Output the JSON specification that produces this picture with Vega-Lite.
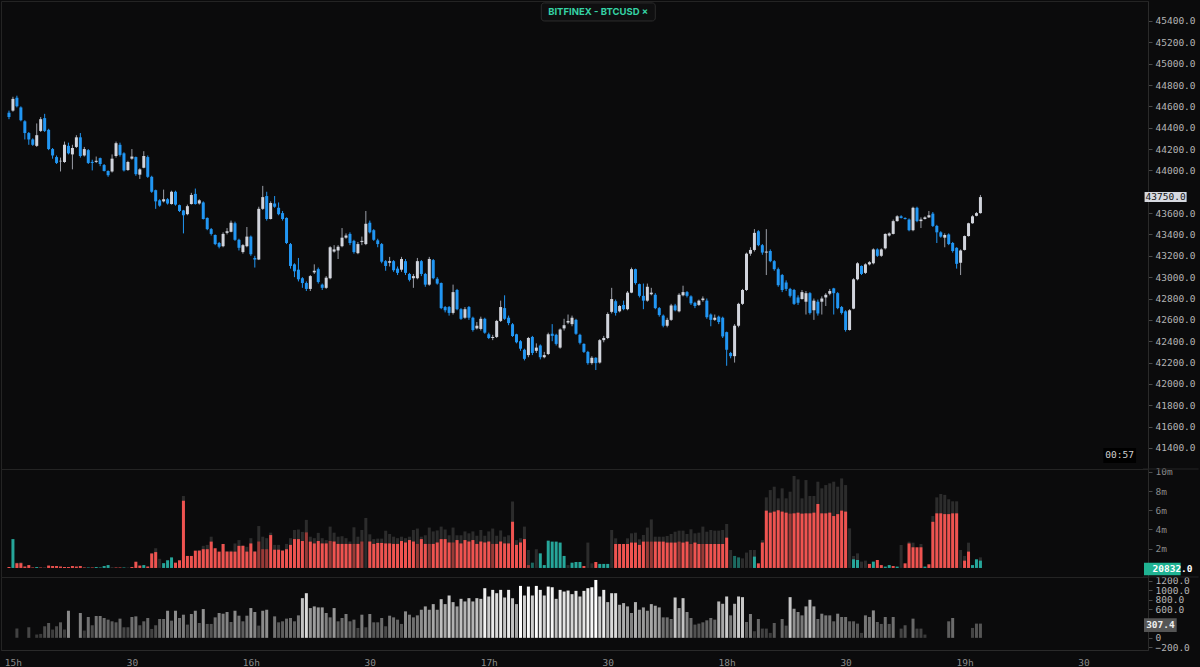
{
"$schema": "https://vega.github.io/schema/vega-lite/v6.json",
"background": "#0b0b0c",
"padding": 0,
"spacing": 0,
"bounds": "flush",
"config": {"view": {"stroke": "#242424", "strokeWidth": 1}, "axis": {"labelFont": "DejaVu Sans Mono", "labelFontSize": 9.5, "title": null, "grid": false, "domainColor": "#2a2a2a", "tickColor": "#4a4a4a", "labelOverlap": false, "labelFlush": false, "labelBound": false}},
"data": {"name": "d"},
"datasets": {"d": [
{"m":-1,"o":44540,"h":44560,"l":44480,"c":44500,"v":0.1,"k":"S"},
{"m":0,"o":44560,"h":44690,"l":44550,"c":44670,"v":3.0,"k":"B"},
{"m":1,"o":44680,"h":44700,"l":44590,"c":44600,"v":0.5,"k":"S","t":0.55,"r":194},
{"m":2,"o":44590,"h":44600,"l":44460,"c":44470,"v":0.5,"k":"S","t":0.6},
{"m":3,"o":44460,"h":44470,"l":44290,"c":44350,"v":0.15,"k":"S"},
{"m":4,"o":44350,"h":44360,"l":44240,"c":44290,"v":0.3,"k":"S","r":222},
{"m":5,"o":44290,"h":44300,"l":44230,"c":44240,"v":0.05,"k":"S"},
{"m":6,"o":44230,"h":44440,"l":44220,"c":44330,"v":0.1,"k":"B","r":70},
{"m":7,"o":44370,"h":44500,"l":44360,"c":44480,"v":0.05,"k":"S","r":83},
{"m":8,"o":44490,"h":44530,"l":44360,"c":44370,"k":"N","t":0.1,"r":243},
{"m":9,"o":44380,"h":44390,"l":44190,"c":44200,"v":0.25,"k":"S","r":312},
{"m":10,"o":44200,"h":44210,"l":44110,"c":44140,"v":0.2,"k":"S","r":174},
{"m":11,"o":44125,"h":44140,"l":44060,"c":44070,"v":0.2,"k":"S","r":243},
{"m":12,"o":44085,"h":44120,"l":43990,"c":44090,"v":0.15,"k":"S","r":326},
{"m":13,"o":44080,"h":44270,"l":44070,"c":44240,"v":0.1,"k":"S","r":174},
{"m":14,"o":44230,"h":44260,"l":44150,"c":44160,"v":0.1,"k":"S","r":569},
{"m":15,"o":44150,"h":44240,"l":44010,"c":44210,"v":0.2,"k":"S"},
{"m":16,"o":44220,"h":44330,"l":44210,"c":44310,"v":0.15,"k":"S"},
{"m":17,"o":44310,"h":44350,"l":44120,"c":44135,"v":0.2,"k":"S","r":521},
{"m":18,"o":44140,"h":44220,"l":44130,"c":44200,"v":0.05,"k":"S","r":153},
{"m":19,"o":44190,"h":44200,"l":44060,"c":44070,"v":0.05,"k":"B","r":437},
{"m":20,"o":44080,"h":44100,"l":44000,"c":44070,"v":0.05,"k":"S","r":264},
{"m":21,"o":44080,"h":44130,"l":44070,"c":44090,"v":0.1,"k":"B","r":458},
{"m":22,"o":44115,"h":44120,"l":44040,"c":44060,"v":0.05,"k":"B","r":458},
{"m":23,"o":44050,"h":44060,"l":43990,"c":43995,"v":0.2,"k":"B","r":417},
{"m":24,"o":43995,"h":44000,"l":43940,"c":43955,"v":0.3,"k":"B","r":382},
{"m":25,"o":43990,"h":44150,"l":43980,"c":44110,"k":"N","t":0.1,"r":347},
{"m":26,"o":44135,"h":44270,"l":44120,"c":44255,"v":0.05,"k":"S","r":326},
{"m":27,"o":44240,"h":44260,"l":44130,"c":44145,"v":0.05,"k":"S","r":403},
{"m":28,"o":44160,"h":44170,"l":43990,"c":44000,"v":0.05,"k":"B","r":222},
{"m":29,"o":44005,"h":44090,"l":43995,"c":44080,"k":"N","t":0.05,"r":222},
{"m":30,"o":44110,"h":44200,"l":44100,"c":44130,"v":0.1,"k":"S","r":437},
{"m":31,"o":44125,"h":44130,"l":43950,"c":43965,"v":0.65,"k":"S","r":451},
{"m":32,"o":43960,"h":44020,"l":43920,"c":44010,"v":0.25,"k":"S","r":264},
{"m":33,"o":44025,"h":44180,"l":44020,"c":44135,"v":0.3,"k":"B","r":347},
{"m":34,"o":44125,"h":44140,"l":43930,"c":43940,"v":0.15,"k":"S","r":417},
{"m":35,"o":43940,"h":43950,"l":43790,"c":43800,"v":1.5,"k":"S","t":1.55,"r":187},
{"m":36,"o":43815,"h":43820,"l":43640,"c":43710,"v":1.65,"k":"S","t":2.05,"r":264},
{"m":37,"o":43720,"h":43730,"l":43660,"c":43670,"k":"N","t":0.95,"r":396},
{"m":38,"o":43710,"h":43820,"l":43700,"c":43730,"v":0.5,"k":"B","r":396},
{"m":39,"o":43730,"h":43740,"l":43680,"c":43690,"v":0.8,"k":"B","r":569},
{"m":40,"o":43685,"h":43810,"l":43680,"c":43800,"v":1.1,"k":"B","r":361},
{"m":41,"o":43800,"h":43810,"l":43670,"c":43680,"v":0.55,"k":"S","r":569},
{"m":42,"o":43675,"h":43680,"l":43610,"c":43620,"v":0.8,"k":"S","r":417},
{"m":43,"o":43625,"h":43630,"l":43410,"c":43580,"v":6.99,"k":"S","t":7.48,"r":486},
{"m":44,"o":43590,"h":43680,"l":43580,"c":43665,"v":1.25,"k":"S","r":278},
{"m":45,"o":43685,"h":43790,"l":43680,"c":43770,"v":1.25,"k":"S","r":500},
{"m":46,"o":43780,"h":43830,"l":43680,"c":43685,"v":1.8,"k":"S","r":569},
{"m":47,"o":43690,"h":43730,"l":43680,"c":43720,"v":1.8,"k":"S","t":1.85,"r":312},
{"m":48,"o":43700,"h":43710,"l":43540,"c":43545,"v":1.95,"k":"S","t":2.3,"r":604},
{"m":49,"o":43555,"h":43560,"l":43440,"c":43450,"v":1.95,"k":"S","t":2.4,"r":292},
{"m":50,"o":43450,"h":43460,"l":43390,"c":43405,"v":2.74,"k":"S","t":3.25,"r":292},
{"m":51,"o":43395,"h":43400,"l":43300,"c":43310,"v":2.05,"k":"S","r":430},
{"m":52,"o":43320,"h":43330,"l":43270,"c":43285,"v":1.7,"k":"S","r":521},
{"m":53,"o":43290,"h":43420,"l":43280,"c":43405,"v":2.49,"k":"S","t":2.5,"r":507},
{"m":54,"o":43415,"h":43460,"l":43400,"c":43430,"v":1.7,"k":"S","t":1.75,"r":542},
{"m":55,"o":43425,"h":43530,"l":43420,"c":43510,"v":1.7,"k":"S","t":1.8,"r":333},
{"m":56,"o":43505,"h":43520,"l":43340,"c":43350,"v":1.7,"k":"S","t":2.55,"r":569},
{"m":57,"o":43350,"h":43360,"l":43250,"c":43275,"v":2.3,"k":"S","t":2.9,"r":465},
{"m":58,"o":43235,"h":43310,"l":43220,"c":43300,"v":2.3,"k":"S","t":2.35,"r":347},
{"m":59,"o":43290,"h":43470,"l":43280,"c":43380,"v":1.7,"k":"S","t":2.2,"r":465},
{"m":60,"o":43380,"h":43390,"l":43200,"c":43215,"v":2.55,"k":"S","t":3.1,"r":625},
{"m":61,"o":43180,"h":43200,"l":43090,"c":43165,"v":1.7,"k":"S","t":1.75,"r":542},
{"m":62,"o":43165,"h":43660,"l":43160,"c":43640,"v":2.75,"k":"Sd","t":4.36,"r":257},
{"m":63,"o":43640,"h":43855,"l":43630,"c":43750,"v":1.95,"k":"Sd","t":3.25,"r":569},
{"m":64,"o":43760,"h":43800,"l":43530,"c":43545,"v":1.95,"k":"Sd","t":3.1,"r":590},
{"m":65,"o":43545,"h":43710,"l":43540,"c":43695,"v":3.42,"k":"S","t":3.67},
{"m":66,"o":43690,"h":43760,"l":43650,"c":43660,"v":1.9,"k":"S","t":2.4,"r":451},
{"m":67,"o":43650,"h":43700,"l":43580,"c":43590,"v":1.9,"k":"S","t":2.4,"r":326},
{"m":68,"o":43600,"h":43620,"l":43530,"c":43545,"v":1.8,"k":"S","t":1.85,"r":347},
{"m":69,"o":43555,"h":43560,"l":43310,"c":43320,"v":1.95,"k":"S","t":2.5,"r":403},
{"m":70,"o":43310,"h":43320,"l":43080,"c":43105,"v":2.4,"k":"S","t":3.1,"r":417},
{"m":71,"o":43120,"h":43130,"l":43000,"c":43055,"v":3.0,"k":"S","t":3.95,"r":347},
{"m":72,"o":43070,"h":43180,"l":42960,"c":42980,"v":3.0,"k":"S","t":4.0,"r":472},
{"m":73,"o":42990,"h":43000,"l":42900,"c":42945,"v":2.8,"k":"S","t":3.75,"r":833},
{"m":74,"o":42945,"h":42960,"l":42870,"c":42890,"v":3.7,"k":"Sd","t":5.0,"r":937},
{"m":75,"o":42890,"h":43020,"l":42870,"c":43010,"v":2.74,"k":"S","t":3.25,"r":625},
{"m":76,"o":43045,"h":43120,"l":43030,"c":43060,"v":2.55,"k":"S","t":3.1,"r":660},
{"m":77,"o":43075,"h":43090,"l":42940,"c":42955,"v":2.8,"k":"S","t":3.65,"r":639},
{"m":78,"o":42930,"h":42940,"l":42880,"c":42900,"v":2.55,"k":"S","t":3.1,"r":639},
{"m":79,"o":42900,"h":43010,"l":42890,"c":42995,"v":2.55,"k":"S","t":2.9,"r":521},
{"m":80,"o":42990,"h":43290,"l":42980,"c":43280,"v":2.8,"k":"Sd","t":4.3,"r":430},
{"m":81,"o":43240,"h":43300,"l":43230,"c":43260,"v":2.75,"k":"S","t":3.67,"r":625},
{"m":82,"o":43250,"h":43300,"l":43170,"c":43285,"v":2.5,"k":"S","t":3.25,"r":347},
{"m":83,"o":43290,"h":43460,"l":43280,"c":43370,"v":2.5,"k":"S","t":3.3,"r":417},
{"m":84,"o":43370,"h":43410,"l":43360,"c":43390,"v":2.5,"k":"S","t":3.1,"r":500},
{"m":85,"o":43405,"h":43420,"l":43300,"c":43320,"v":2.5,"k":"S","t":2.75,"r":347},
{"m":86,"o":43340,"h":43350,"l":43220,"c":43235,"v":2.5,"k":"Sd","t":4.23,"r":382},
{"m":87,"o":43225,"h":43330,"l":43215,"c":43310,"v":2.5,"k":"S","t":3.25,"r":208},
{"m":88,"o":43330,"h":43380,"l":43300,"c":43340,"v":2.75,"k":"Sd","t":3.95,"r":486},
{"m":89,"o":43310,"h":43620,"l":43300,"c":43500,"k":"N","t":5.2,"r":222},
{"m":90,"o":43510,"h":43530,"l":43410,"c":43420,"v":2.75,"k":"S","t":3.5,"r":500},
{"m":91,"o":43440,"h":43450,"l":43340,"c":43350,"v":2.5,"k":"S","t":3.0,"r":326},
{"m":92,"o":43345,"h":43360,"l":43280,"c":43310,"v":2.6,"k":"S","t":3.05,"r":326},
{"m":93,"o":43310,"h":43320,"l":43130,"c":43145,"v":2.6,"k":"S","t":3.05,"r":417},
{"m":94,"o":43150,"h":43160,"l":43060,"c":43105,"v":2.55,"k":"S","t":3.87,"r":243},
{"m":95,"o":43135,"h":43190,"l":43100,"c":43150,"v":2.55,"k":"S","t":3.53,"r":465},
{"m":96,"o":43150,"h":43160,"l":43050,"c":43065,"v":2.5,"k":"S","t":3.25,"r":430},
{"m":97,"o":43080,"h":43100,"l":43020,"c":43040,"v":2.5,"k":"S","t":3.1,"r":382},
{"m":98,"o":43070,"h":43190,"l":43050,"c":43170,"v":2.8,"k":"S","t":3.25,"r":292},
{"m":99,"o":43150,"h":43170,"l":43020,"c":43040,"v":2.65,"k":"S","t":3.1,"r":556},
{"m":100,"o":43030,"h":43040,"l":42960,"c":42975,"v":2.9,"k":"S","t":3.25,"r":486},
{"m":101,"o":42990,"h":43030,"l":42900,"c":43010,"v":2.75,"k":"S","t":3.95,"r":430},
{"m":102,"o":42990,"h":43180,"l":42980,"c":43150,"v":2.5,"k":"Sd","t":4.1,"r":472},
{"m":103,"o":43150,"h":43160,"l":43010,"c":43030,"v":3.0,"k":"S","t":3.25,"r":590},
{"m":104,"o":43030,"h":43040,"l":42910,"c":42930,"v":2.5,"k":"S","t":3.4,"r":660},
{"m":105,"o":42930,"h":43190,"l":42920,"c":43170,"v":2.5,"k":"Sd","t":4.2,"r":590},
{"m":106,"o":43160,"h":43170,"l":42980,"c":42990,"v":2.5,"k":"S","t":3.8,"r":708},
{"m":107,"o":42985,"h":43000,"l":42930,"c":42940,"v":2.65,"k":"S","t":3.9,"r":590},
{"m":108,"o":42945,"h":42950,"l":42700,"c":42710,"v":3.0,"k":"S","t":4.3,"r":812},
{"m":109,"o":42720,"h":42730,"l":42670,"c":42690,"v":3.0,"k":"S","t":4.0,"r":708},
{"m":110,"o":42720,"h":42730,"l":42640,"c":42665,"v":2.65,"k":"S","t":3.4,"r":889},
{"m":111,"o":42665,"h":42930,"l":42650,"c":42860,"v":2.65,"k":"Sd","t":4.2,"r":750},
{"m":112,"o":42880,"h":42890,"l":42690,"c":42700,"v":2.9,"k":"S","t":3.4,"r":660},
{"m":113,"o":42700,"h":42710,"l":42600,"c":42610,"v":2.55,"k":"S","t":3.4,"r":819},
{"m":114,"o":42620,"h":42720,"l":42610,"c":42700,"v":2.9,"k":"S","t":3.8,"r":764},
{"m":115,"o":42720,"h":42730,"l":42600,"c":42620,"v":2.75,"k":"S","t":3.6,"r":833},
{"m":116,"o":42620,"h":42630,"l":42490,"c":42505,"v":2.9,"k":"S","t":3.8,"r":764},
{"m":117,"o":42520,"h":42580,"l":42510,"c":42545,"v":2.5,"k":"S","t":3.35,"r":833},
{"m":118,"o":42515,"h":42630,"l":42500,"c":42610,"v":2.75,"k":"S","t":3.95,"r":819},
{"m":119,"o":42610,"h":42620,"l":42470,"c":42480,"v":2.65,"k":"S","t":3.35,"r":1042},
{"m":120,"o":42465,"h":42480,"l":42420,"c":42430,"v":2.75,"k":"S","t":3.8,"r":868},
{"m":121,"o":42430,"h":42460,"l":42410,"c":42440,"v":2.5,"k":"Sd","t":4.1,"r":1007},
{"m":122,"o":42440,"h":42600,"l":42430,"c":42590,"v":2.5,"k":"S","t":3.35,"r":937},
{"m":123,"o":42590,"h":42780,"l":42580,"c":42720,"v":2.75,"k":"S","t":3.9,"r":1007},
{"m":124,"o":42710,"h":42830,"l":42600,"c":42610,"v":2.55,"k":"S","t":3.25,"r":847},
{"m":125,"o":42620,"h":42640,"l":42550,"c":42570,"v":2.55,"k":"S","t":3.4,"r":1007},
{"m":126,"o":42560,"h":42570,"l":42440,"c":42450,"v":4.8,"k":"S","t":6.9,"r":833},
{"m":127,"o":42465,"h":42470,"l":42380,"c":42390,"v":2.4,"k":"S","t":2.9,"r":708},
{"m":128,"o":42400,"h":42410,"l":42310,"c":42330,"v":2.65,"k":"S","t":3.1,"r":1090},
{"m":129,"o":42320,"h":42330,"l":42220,"c":42235,"v":3.0,"k":"S","t":4.3,"r":889},
{"m":130,"o":42270,"h":42440,"l":42250,"c":42430,"v":0.3,"k":"Sd","t":1.87,"r":1076},
{"m":131,"o":42440,"h":42450,"l":42270,"c":42290,"v":0.55,"k":"Bd","r":889},
{"m":132,"o":42310,"h":42380,"l":42290,"c":42340,"k":"N","t":1.95,"r":1090},
{"m":133,"o":42360,"h":42370,"l":42230,"c":42250,"v":1.52,"k":"B","r":1007},
{"m":134,"o":42250,"h":42300,"l":42240,"c":42270,"v":0.3,"k":"B","r":889},
{"m":135,"o":42280,"h":42480,"l":42270,"c":42465,"v":2.84,"k":"B","r":1076},
{"m":136,"o":42470,"h":42560,"l":42400,"c":42450,"v":2.74,"k":"B","r":1062},
{"m":137,"o":42460,"h":42470,"l":42360,"c":42375,"v":2.74,"k":"B","r":819},
{"m":138,"o":42340,"h":42520,"l":42330,"c":42510,"v":2.64,"k":"B","r":1007},
{"m":139,"o":42520,"h":42610,"l":42500,"c":42550,"v":1.25,"k":"B","r":972},
{"m":140,"o":42575,"h":42650,"l":42560,"c":42590,"k":"N","t":0.3,"r":993},
{"m":141,"o":42560,"h":42640,"l":42540,"c":42620,"v":0.55,"k":"B","r":917},
{"m":142,"o":42600,"h":42610,"l":42460,"c":42470,"v":0.62,"k":"B","r":986},
{"m":143,"o":42460,"h":42470,"l":42370,"c":42385,"v":0.62,"k":"B","r":868},
{"m":144,"o":42375,"h":42380,"l":42290,"c":42300,"v":0.2,"k":"S","r":986},
{"m":145,"o":42300,"h":42310,"l":42180,"c":42195,"k":"N","t":2.64,"r":1042},
{"m":146,"o":42195,"h":42260,"l":42180,"c":42245,"k":"N","t":0.48,"r":1062},
{"m":147,"o":42245,"h":42250,"l":42130,"c":42195,"v":0.62,"k":"S","r":1215},
{"m":148,"o":42200,"h":42420,"l":42190,"c":42410,"v":0.42,"k":"B","r":868},
{"m":149,"o":42410,"h":42450,"l":42390,"c":42430,"v":0.42,"k":"B","r":1007},
{"m":150,"o":42430,"h":42670,"l":42420,"c":42655,"v":0.42,"k":"B","r":750},
{"m":151,"o":42675,"h":42900,"l":42660,"c":42795,"k":"N","t":3.95,"r":937},
{"m":152,"o":42775,"h":42790,"l":42640,"c":42665,"v":2.49,"k":"S","t":3.08,"r":937},
{"m":153,"o":42680,"h":42740,"l":42670,"c":42730,"v":2.49,"k":"S","t":2.5,"r":694},
{"m":154,"o":42740,"h":42780,"l":42690,"c":42700,"v":2.49,"k":"S","t":2.5,"r":729},
{"m":155,"o":42700,"h":42870,"l":42690,"c":42855,"v":2.49,"k":"S","t":3.08,"r":660},
{"m":156,"o":42855,"h":43090,"l":42850,"c":43075,"v":2.64,"k":"S","t":3.6,"r":521},
{"m":157,"o":43075,"h":43080,"l":42930,"c":42945,"v":2.64,"k":"S","t":3.67,"r":750},
{"m":158,"o":42935,"h":42940,"l":42810,"c":42825,"v":2.4,"k":"S","t":2.98,"r":590},
{"m":159,"o":42825,"h":42940,"l":42700,"c":42780,"v":2.74,"k":"S","t":3.43,"r":639},
{"m":160,"o":42780,"h":42940,"l":42770,"c":42910,"v":2.74,"k":"Sd","t":4.2,"r":569},
{"m":161,"o":42840,"h":42900,"l":42830,"c":42855,"v":2.74,"k":"Sd","t":5.05,"r":708},
{"m":162,"o":42835,"h":42850,"l":42700,"c":42710,"v":2.74,"k":"S","t":3.25,"r":674},
{"m":163,"o":42710,"h":42720,"l":42630,"c":42645,"v":2.74,"k":"S","t":3.25,"r":639},
{"m":164,"o":42640,"h":42650,"l":42530,"c":42545,"v":2.74,"k":"S","t":3.25,"r":430},
{"m":165,"o":42545,"h":42620,"l":42530,"c":42600,"v":2.64,"k":"S","t":3.33,"r":430},
{"m":166,"o":42600,"h":42750,"l":42590,"c":42735,"v":2.64,"k":"S","t":3.53,"r":396},
{"m":167,"o":42735,"h":42750,"l":42680,"c":42690,"v":2.64,"k":"S","t":3.77,"r":847},
{"m":168,"o":42680,"h":42850,"l":42670,"c":42835,"v":2.74,"k":"Sd","t":3.88,"r":625},
{"m":169,"o":42830,"h":42920,"l":42820,"c":42860,"v":2.64,"k":"S","t":3.88,"r":833},
{"m":170,"o":42860,"h":42870,"l":42810,"c":42825,"v":2.74,"k":"S","t":3.53,"r":542},
{"m":171,"o":42820,"h":42830,"l":42740,"c":42755,"v":2.49,"k":"Sd","t":4.02,"r":417},
{"m":172,"o":42760,"h":42770,"l":42710,"c":42730,"v":2.64,"k":"S","t":3.6,"r":278},
{"m":173,"o":42740,"h":42790,"l":42730,"c":42780,"v":2.49,"k":"S","t":3.67,"r":299},
{"m":174,"o":42785,"h":42820,"l":42770,"c":42800,"v":2.49,"k":"Sd","t":4.3,"r":326},
{"m":175,"o":42780,"h":42800,"l":42610,"c":42625,"v":2.49,"k":"S","t":3.77,"r":368},
{"m":176,"o":42650,"h":42660,"l":42540,"c":42600,"v":2.49,"k":"S","t":3.95,"r":417},
{"m":177,"o":42600,"h":42650,"l":42590,"c":42620,"v":2.49,"k":"S","t":3.88,"r":382},
{"m":178,"o":42630,"h":42640,"l":42560,"c":42580,"v":2.49,"k":"S","t":3.88,"r":764},
{"m":179,"o":42620,"h":42630,"l":42430,"c":42445,"v":2.49,"k":"S","t":3.95,"r":715},
{"m":180,"o":42485,"h":42490,"l":42170,"c":42320,"v":3.15,"k":"S","t":4.57,"r":868},
{"m":181,"o":42290,"h":42300,"l":42240,"c":42260,"k":"N","t":1.87,"r":472},
{"m":182,"o":42260,"h":42560,"l":42200,"c":42545,"v":1.25,"k":"Bd","r":715},
{"m":183,"o":42545,"h":42760,"l":42530,"c":42750,"v":1.1,"k":"Bd","r":868},
{"m":184,"o":42750,"h":42890,"l":42740,"c":42880,"k":"N","t":1.0,"r":854},
{"m":185,"o":42880,"h":43230,"l":42870,"c":43220,"k":"N","t":1.6,"r":333},
{"m":186,"o":43220,"h":43280,"l":43200,"c":43255,"k":"N","t":1.87,"r":500},
{"m":187,"o":43255,"h":43450,"l":43240,"c":43415,"v":1.18,"k":"B","t":1.87,"r":139},
{"m":188,"o":43430,"h":43440,"l":43290,"c":43300,"v":0.48,"k":"S","r":396},
{"m":189,"o":43300,"h":43310,"l":43210,"c":43230,"v":2.64,"k":"S","t":2.9,"r":194},
{"m":190,"o":43230,"h":43450,"l":43020,"c":43240,"v":5.96,"k":"S","t":7.34,"r":194},
{"m":191,"o":43245,"h":43260,"l":43140,"c":43150,"v":5.75,"k":"S","t":8.1,"r":104},
{"m":192,"o":43150,"h":43160,"l":43060,"c":43075,"v":5.86,"k":"S","t":8.45,"r":312},
{"m":193,"o":43075,"h":43090,"l":42910,"c":42925,"v":6.0,"k":"S","t":7.24},
{"m":194,"o":43020,"h":43030,"l":42860,"c":42880,"v":5.86,"k":"S","t":8.28,"r":396},
{"m":195,"o":42950,"h":42970,"l":42870,"c":42890,"v":5.75,"k":"S","t":7.24,"r":257},
{"m":196,"o":42890,"h":42900,"l":42810,"c":42825,"v":5.65,"k":"Sd","t":7.93,"r":854},
{"m":197,"o":42880,"h":42890,"l":42740,"c":42750,"v":5.68,"k":"S","t":9.56,"r":611},
{"m":198,"o":42810,"h":42830,"l":42740,"c":42760,"v":5.75,"k":"S","t":9.21,"r":542},
{"m":199,"o":42795,"h":42880,"l":42790,"c":42860,"v":5.65,"k":"S","t":7.24,"r":472},
{"m":200,"o":42770,"h":42870,"l":42650,"c":42850,"v":5.68,"k":"S","t":9.14,"r":660},
{"m":201,"o":42850,"h":42860,"l":42650,"c":42665,"v":5.68,"k":"S","t":7.48,"r":799},
{"m":202,"o":42690,"h":42800,"l":42600,"c":42780,"v":5.75,"k":"S","t":7.48,"r":660},
{"m":203,"o":42770,"h":42790,"l":42640,"c":42660,"v":6.65,"k":"S","t":8.97,"r":396},
{"m":204,"o":42770,"h":42820,"l":42650,"c":42800,"v":5.68,"k":"S","t":8.28,"r":507},
{"m":205,"o":42810,"h":42850,"l":42730,"c":42835,"v":5.68,"k":"S","t":8.62,"r":472},
{"m":206,"o":42845,"h":42890,"l":42830,"c":42870,"v":5.75,"k":"S","t":8.8,"r":472},
{"m":207,"o":42895,"h":42900,"l":42650,"c":42850,"v":5.4,"k":"S","t":8.97,"r":347},
{"m":208,"o":42850,"h":42860,"l":42700,"c":42710,"v":5.6,"k":"S","t":8.45,"r":507},
{"m":209,"o":42720,"h":42730,"l":42650,"c":42665,"v":5.96,"k":"S","t":9.31,"r":437},
{"m":210,"o":42680,"h":42690,"l":42490,"c":42505,"v":5.86,"k":"S","t":8.62,"r":437},
{"m":211,"o":42505,"h":42700,"l":42500,"c":42690,"k":"N","t":4.12,"r":347},
{"m":212,"o":42705,"h":42990,"l":42700,"c":42980,"v":0.9,"k":"B","t":1.25,"r":347},
{"m":213,"o":42980,"h":43140,"l":42970,"c":43130,"v":0.83,"k":"B","t":1.52,"r":299},
{"m":214,"o":43105,"h":43110,"l":43020,"c":43030,"k":"N","t":0.66,"r":104},
{"m":215,"o":43040,"h":43130,"l":43030,"c":43120,"k":"N","t":0.76,"r":472},
{"m":216,"o":43120,"h":43150,"l":43110,"c":43140,"v":0.42,"k":"S","r":437},
{"m":217,"o":43130,"h":43270,"l":43120,"c":43260,"v":0.66,"k":"B","r":576},
{"m":218,"o":43260,"h":43270,"l":43190,"c":43200,"v":0.83,"k":"S","r":333},
{"m":219,"o":43200,"h":43270,"l":43190,"c":43260,"v":0.3,"k":"S","r":292},
{"m":220,"o":43270,"h":43410,"l":43260,"c":43405,"v":0.14,"k":"B","r":437},
{"m":221,"o":43390,"h":43420,"l":43380,"c":43410,"v":0.3,"k":"B","r":292},
{"m":222,"o":43405,"h":43540,"l":43400,"c":43525,"v":0.2,"k":"S","r":437},
{"m":223,"o":43525,"h":43580,"l":43520,"c":43570,"v":0.14,"k":"B"},
{"m":224,"o":43570,"h":43580,"l":43550,"c":43555,"k":"N","t":2.39,"r":194},
{"m":225,"o":43555,"h":43560,"l":43540,"c":43545,"v":0.48,"k":"S","r":264},
{"m":226,"o":43540,"h":43550,"l":43430,"c":43440,"v":2.55,"k":"S","t":2.73},
{"m":227,"o":43440,"h":43660,"l":43430,"c":43650,"v":2.15,"k":"S","t":2.63,"r":403},
{"m":228,"o":43650,"h":43660,"l":43515,"c":43525,"v":2.15,"k":"S","r":194},
{"m":229,"o":43525,"h":43560,"l":43460,"c":43540,"v":2.15,"k":"S","t":2.49,"r":194},
{"m":230,"o":43545,"h":43570,"l":43540,"c":43560,"v":0.14,"k":"B","r":69},
{"m":231,"o":43560,"h":43620,"l":43555,"c":43580,"v":0.38,"k":"S"},
{"m":232,"o":43595,"h":43610,"l":43470,"c":43480,"v":4.8,"k":"S","t":5.4},
{"m":233,"o":43480,"h":43490,"l":43320,"c":43420,"v":5.68,"k":"S","t":7.34},
{"m":234,"o":43420,"h":43430,"l":43370,"c":43380,"v":5.68,"k":"S","t":7.69},
{"m":235,"o":43370,"h":43410,"l":43280,"c":43395,"v":5.6,"k":"S","t":7.6},
{"m":236,"o":43400,"h":43410,"l":43300,"c":43310,"v":5.6,"k":"S","t":7.14,"r":347},
{"m":237,"o":43320,"h":43330,"l":43230,"c":43245,"v":5.68,"k":"S","t":6.93,"r":417},
{"m":238,"o":43275,"h":43280,"l":43080,"c":43125,"v":5.68,"k":"S","t":6.93},
{"m":239,"o":43135,"h":43260,"l":43020,"c":43250,"k":"N","t":1.87},
{"m":240,"o":43255,"h":43390,"l":43250,"c":43385,"v":0.76,"k":"S","t":1.25},
{"m":241,"o":43385,"h":43510,"l":43380,"c":43505,"v":1.7,"k":"S","t":2.63},
{"m":242,"o":43505,"h":43580,"l":43500,"c":43570,"v":0.3,"k":"B","r":208},
{"m":243,"o":43575,"h":43610,"l":43570,"c":43600,"v":0.9,"k":"B","r":299},
{"m":244,"o":43600,"h":43770,"l":43595,"c":43750,"v":0.76,"k":"B","t":1.1,"r":299}
]},
"vconcat": [
{
 "width": 1147, "height": 468,
 "layer": [
  {"mark": {"type": "rule", "strokeWidth": 1},
   "encoding": {
    "x": {"field": "m", "type": "quantitative", "scale": {"domain": [-1.75, 285]}, "axis": null},
    "y": {"field": "l", "type": "quantitative", "scale": {"domain": [41203, 45587]},
          "axis": {"orient": "right", "values": [41400,41600,41800,42000,42200,42400,42600,42800,43000,43200,43400,43600,44000,44200,44400,44600,44800,45000,45200,45400], "tickCount": 100, "format": ".1f", "labelColor": "#b4b4b4", "tickSize": 4, "labelPadding": 3}},
    "y2": {"field": "h"},
    "color": {"condition": {"test": "datum.c >= datum.o", "value": "#9a9da6"}, "value": "#2196f3"}
   }},
  {"mark": {"type": "bar", "width": 3},
   "encoding": {
    "x": {"field": "m", "type": "quantitative", "scale": {"domain": [-1.75, 285]}},
    "y": {"field": "o", "type": "quantitative", "scale": {"domain": [41203, 45587]}},
    "y2": {"field": "c"},
    "color": {"condition": {"test": "datum.c >= datum.o", "value": "#d1d4dc"}, "value": "#2196f3"}
   }},
  {"data": {"values": [{"s": "BITFINEX - BTCUSD  \u00d7"}]},
   "mark": {"type": "rect", "fill": "#0f0f10", "stroke": "#2c2c2c", "cornerRadius": 3, "clip": false},
   "encoding": {"x": {"datum": 133.25, "scale": {"domain": [-1.75, 285]}}, "x2": {"datum": 162}, "y": {"datum": 45400, "scale": {"domain": [41203, 45587]}}, "y2": {"datum": 45569}}},
  {"data": {"values": [{"s": "BITFINEX - BTCUSD  \u00d7"}]},
   "mark": {"type": "text", "font": "Inter", "fontWeight": "bold", "fontSize": 9.5, "color": "#35d3a5", "align": "center", "baseline": "middle", "clip": false},
   "encoding": {"x": {"datum": 147.6, "scale": {"domain": [-1.75, 285]}}, "y": {"datum": 45485, "scale": {"domain": [41203, 45587]}}, "text": {"field": "s"}}},
  {"data": {"values": [{"p": 43750}]},
   "mark": {"type": "rect", "fill": "#d6d9e0", "clip": false},
   "encoding": {"x": {"datum": 285.4, "scale": {"domain": [-1.75, 285]}}, "x2": {"datum": 296}, "y": {"datum": 43797, "scale": {"domain": [41203, 45587]}}, "y2": {"datum": 43703}}},
  {"data": {"values": [{"p": 43750}]},
   "mark": {"type": "text", "font": "DejaVu Sans Mono", "fontSize": 9.5, "color": "#131313", "align": "center", "baseline": "middle", "clip": false},
   "encoding": {"x": {"datum": 290.7, "scale": {"domain": [-1.75, 285]}}, "y": {"field": "p", "type": "quantitative", "scale": {"domain": [41203, 45587]}}, "text": {"field": "p", "format": ".1f"}}},
  {"data": {"values": [{"s": "00:57"}]},
   "mark": {"type": "rect", "fill": "#000000", "clip": false},
   "encoding": {"x": {"datum": 275.0, "scale": {"domain": [-1.75, 285]}}, "x2": {"datum": 283.25}, "y": {"datum": 41400, "scale": {"domain": [41203, 45587]}}, "y2": {"datum": 41260}}},
  {"data": {"values": [{"s": "00:57"}]},
   "mark": {"type": "text", "font": "DejaVu Sans Mono", "fontSize": 9.5, "color": "#cfcfcf", "align": "center", "baseline": "middle", "clip": false},
   "encoding": {"x": {"datum": 279.1, "scale": {"domain": [-1.75, 285]}}, "y": {"datum": 41330, "scale": {"domain": [41203, 45587]}}, "text": {"field": "s"}}}
 ]
},
{
 "width": 1147, "height": 108,
 "layer": [
  {"mark": {"type": "bar", "width": 3, "color": "#2c2c2c"},
   "encoding": {
    "x": {"field": "m", "type": "quantitative", "scale": {"domain": [-1.75, 285]}, "axis": null},
    "y": {"field": "t", "type": "quantitative", "scale": {"domain": [-0.94, 10.29]},
          "axis": {"orient": "right", "values": [2,4,6,8,10], "tickCount": 100, "labelExpr": "datum.value + 'm'", "labelColor": "#8a8a8a", "tickSize": 4, "labelPadding": 3}},
    "y2": {"datum": 0}
   }},
  {"mark": {"type": "bar", "width": 3},
   "encoding": {
    "x": {"field": "m", "type": "quantitative", "scale": {"domain": [-1.75, 285]}},
    "y": {"field": "v", "type": "quantitative", "scale": {"domain": [-0.94, 10.29]}},
    "y2": {"datum": 0},
    "color": {"field": "k", "type": "nominal", "scale": {"domain": ["S","Sd","B","Bd"], "range": ["#ef5350","#9a3a37","#26a69a","#1c6a61"]}, "legend": null}
   }},
  {"data": {"values": [{"s": "20832.0"}]},
   "mark": {"type": "rule", "color": "#242424", "clip": false},
   "encoding": {"x": {"datum": 285, "scale": {"domain": [-1.75, 285]}}, "x2": {"datum": 299}, "y": {"datum": 10.29, "scale": {"domain": [-0.94, 10.29]}}}},
  {"data": {"values": [{"s": "20832.0"}]},
   "mark": {"type": "rect", "fill": "#20b393", "clip": false},
   "encoding": {"x": {"datum": 285.25, "scale": {"domain": [-1.75, 285]}}, "x2": {"datum": 294.5}, "y": {"datum": 0.55, "scale": {"domain": [-0.94, 10.29]}}, "y2": {"datum": -0.75}}},
  {"data": {"values": [{"s": "20832.0"}]},
   "mark": {"type": "text", "font": "DejaVu Sans Mono", "fontSize": 9.5, "fontWeight": "bold", "color": "#ffffff", "align": "left", "baseline": "middle", "clip": false},
   "encoding": {"x": {"datum": 287.4, "scale": {"domain": [-1.75, 285]}}, "y": {"datum": -0.1, "scale": {"domain": [-0.94, 10.29]}}, "text": {"field": "s"}}}
 ]
},
{
 "width": 1147, "height": 73,
 "layer": [
  {"mark": {"type": "bar", "width": 3},
   "encoding": {
    "x": {"field": "m", "type": "quantitative", "scale": {"domain": [-1.75, 285]},
          "axis": {"orient": "bottom", "values": [0,30,60,90,120,150,180,210,240,270], "tickCount": 100, "labelExpr": "datum.value % 60 == 0 ? (15 + datum.value / 60) + 'h' : '30'", "labelColor": "#8a8a8a", "ticks": false, "labelPadding": 7, "labelFlush": false, "labelAlign": "center"}},
    "y": {"field": "r", "type": "quantitative", "scale": {"domain": [-255, 1277]},
          "axis": {"orient": "right", "values": [-200,0,600,800,1000,1200], "tickCount": 100, "labelExpr": "datum.value == 0 ? '0' : format(datum.value, '.1f')", "labelColor": "#b4b4b4", "tickSize": 4, "labelPadding": 3}},
    "y2": {"datum": 0},
    "color": {"field": "r", "type": "quantitative", "scale": {"domain": [150, 1100], "range": ["#3a3a3a", "#ffffff"], "clamp": true}, "legend": null}
   }},
  {"data": {"values": [{"p": 307.4}]},
   "mark": {"type": "rule", "color": "#242424", "clip": false},
   "encoding": {"x": {"datum": 285, "scale": {"domain": [-1.75, 285]}}, "x2": {"datum": 299}, "y": {"datum": 1277, "scale": {"domain": [-255, 1277]}}}},
  {"data": {"values": [{"p": 307.4}]},
   "mark": {"type": "rect", "fill": "#555555", "clip": false},
   "encoding": {"x": {"datum": 285.25, "scale": {"domain": [-1.75, 285]}}, "x2": {"datum": 293.5}, "y": {"datum": 410, "scale": {"domain": [-255, 1277]}}, "y2": {"datum": 123}}},
  {"data": {"values": [{"p": 307.4}]},
   "mark": {"type": "text", "font": "DejaVu Sans Mono", "fontSize": 9.5, "fontWeight": "bold", "color": "#eeeeee", "align": "center", "baseline": "middle", "clip": false},
   "encoding": {"x": {"datum": 289.4, "scale": {"domain": [-1.75, 285]}}, "y": {"datum": 266, "scale": {"domain": [-255, 1277]}}, "text": {"field": "p", "format": ".1f"}}}
 ]
}
]
}
